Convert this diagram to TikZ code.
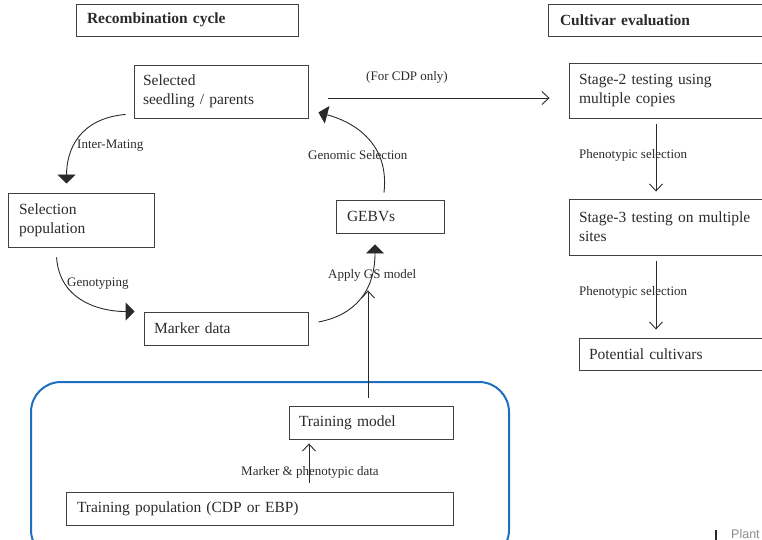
\documentclass[tikz,border=0pt]{standalone}
\usepackage{fontspec}
\setmainfont{Liberation Serif}
\newfontfamily\brandsans{Liberation Sans}
\usetikzlibrary{arrows.meta,calc}
\definecolor{edgegray}{HTML}{404040}
\definecolor{inkgray}{HTML}{2A2A2A}
\definecolor{panelblue}{HTML}{1E6FC0}

\tikzset{
  box/.style={draw=edgegray, line width=0.9pt, text=inkgray, align=left,
    inner xsep=0pt, inner ysep=0pt, font=\fontsize{15.5}{19}\selectfont},
  head/.style={box, font=\bfseries\fontsize{15.5}{19}\selectfont},
  tag/.style={anchor=west, inner sep=0pt, text=inkgray, font=\fontsize{13}{15}\selectfont},
  flow/.style={draw=inkgray, line width=0.9pt},
  solidtip/.style={flow, -{Triangle[length=9pt,width=18pt]}},
  opentip/.style={flow, -{Straight Barb[length=7pt,width=13pt]}},
  panel/.style={draw=panelblue, line width=2pt, rounded corners=30pt},
}

\begin{document}
\begin{tikzpicture}[x=1pt,y=-1pt]
\useasboundingbox (0,0) rectangle (762,540);

% training panel
\node[panel, minimum width=478pt, minimum height=178pt] (pool) at (270,471) {};

% headings
\node[head, minimum width=222pt, minimum height=32pt, text width=200pt] (rc) at (187,20) {Recombination cycle};
\node[head, minimum width=224pt, minimum height=32pt, text width=200pt] (ce) at (660,20) {Cultivar evaluation};

% recombination cycle
\node[box, minimum width=174pt, minimum height=53pt, text width=156pt] (sel) at (221,91.5) {Selected\\seedling / parents};
\node[box, minimum width=146pt, minimum height=54pt, text width=124pt] (selpop) at (81,220) {Selection\\population};
\node[box, minimum width=164pt, minimum height=33pt, text width=144pt] (marker) at (226,328.5) {Marker data};
\node[box, minimum width=108pt, minimum height=33pt, text width=86pt] (gebv) at (390,216.5) {GEBVs};

% training
\node[box, minimum width=164pt, minimum height=33pt, text width=144pt] (tm) at (371,422.5) {Training model};
\node[box, minimum width=387pt, minimum height=33pt, text width=365pt] (tp) at (259.5,508.5) {Training population (CDP or EBP)};

% cultivar evaluation
\node[box, minimum width=203pt, minimum height=55pt, text width=183pt] (st2) at (670.5,90.5) {Stage-2 testing using\\multiple copies};
\node[box, minimum width=203pt, minimum height=56pt, text width=183pt] (st3) at (670.5,227) {Stage-3 testing on multiple\\sites};
\node[box, minimum width=193pt, minimum height=32pt, text width=173pt] (pot) at (675.5,354) {Potential cultivars};

% cycle connectors
\draw[solidtip] ($(sel.south west)+(-8,-4)$) .. controls +(-46,4) and +(0,-34) .. ($(selpop.north west)+(59,-9)$);
\draw[solidtip] ($(selpop.south west)+(49,10)$) .. controls +(3,43) and +(-35,0) .. ($(marker.north west)+(-9,0)$);
\draw[solidtip] ($(marker.east)+(10,-6.5)$) .. controls +(37,-7) and +(0,46) .. ($(gebv.south)+(-15,11)$);
\draw[solidtip] ($(gebv.north)+(-6,-7)$) .. controls +(6,-53) and +(30,8) .. ($(sel.south east)+(10,-6)$);

% straight connectors
\draw[opentip] ($(sel.east)+(20,6.5)$) -- ($(st2.west)+(-19,7.5)$);
\draw[opentip] ($(tm.north)+(-3,-8)$) -- ($(gebv.south)+(-22,57)$);
\draw[opentip] ($(tp.north)+(49.5,-9)$) -- ($(tm.south)+(-62,4)$);
\draw[opentip] ($(st2.south)+(-14.5,6)$) -- ($(st3.north)+(-14.5,-7)$);
\draw[opentip] ($(st3.south)+(-14.5,6)$) -- ($(pot.north)+(-19.5,-8)$);

% connector labels
\node[tag] (lcdp) at (366,77) {(For CDP only)};
\node[tag] (lmate) at (77,146) {Inter-Mating};
\node[tag] (lgeno) at (67,284) {Genotyping};
\node[tag] (lapply) at (328,275) {Apply GS model};
\node[tag] (lgs) at (308,155) {Genomic Selection};
\node[tag] (lmpd) at (241,472) {Marker \& phenotypic data};
\node[tag] (lph1) at (579,155) {Phenotypic selection};
\node[tag] (lph2) at (579,292) {Phenotypic selection};

% corner mark
\draw[inkgray, line width=2pt] (716,530) -- (716,542);
\node[anchor=west, inner sep=0pt, text=black!45, font=\brandsans\fontsize{12.5}{15}\selectfont] (brand) at (731,534) {Plant};
\end{tikzpicture}
\end{document}
